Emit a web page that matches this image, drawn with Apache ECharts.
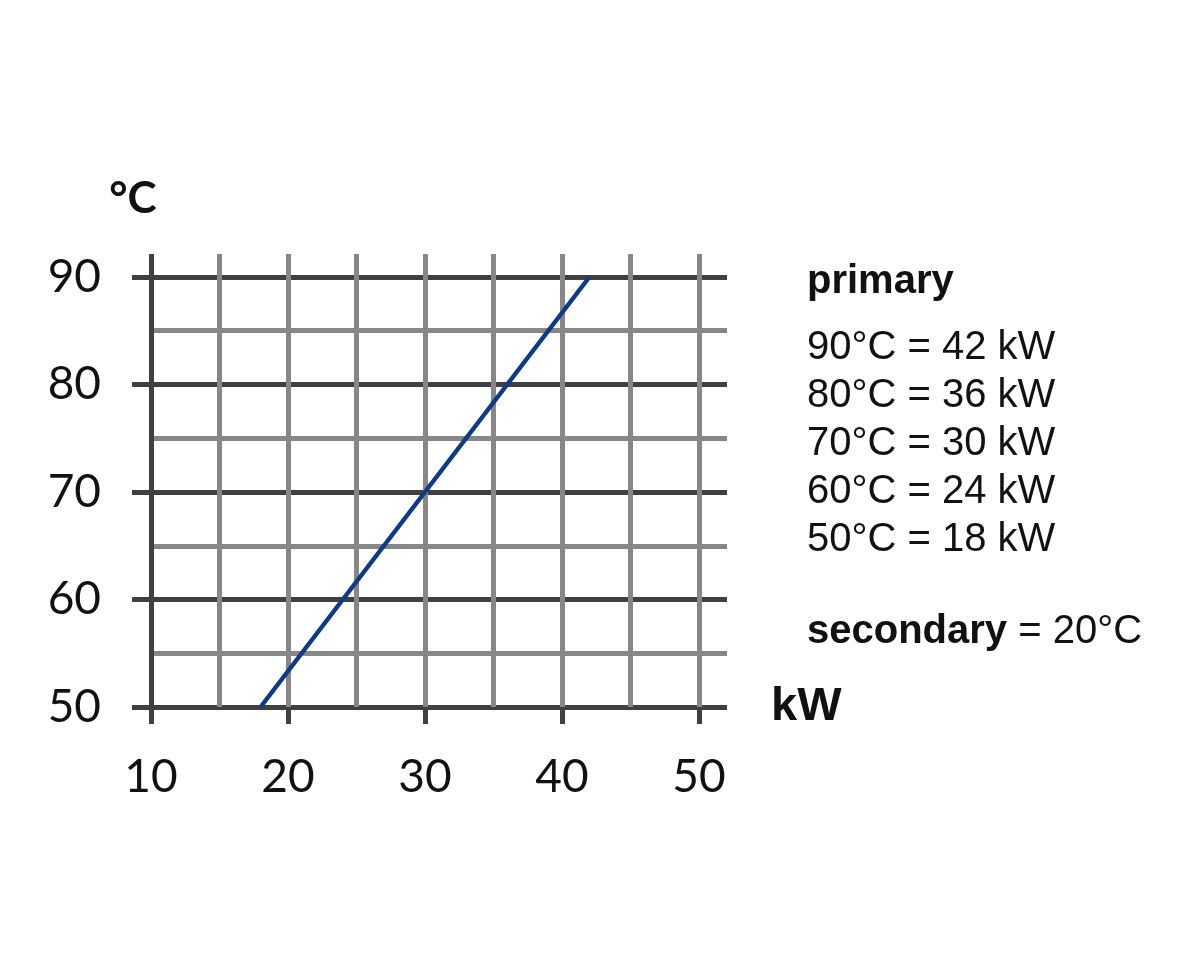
<!DOCTYPE html>
<html>
<head>
<meta charset="utf-8">
<script src="https://cdn.jsdelivr.net/npm/echarts@6/dist/echarts.min.js"></script>
<style>html,body{margin:0;padding:0;background:#fff;}#c{width:1200px;height:960px;}</style>
</head>
<body>
<div id="c"></div>
<script>
// ---- data ----
var powerKW = [18, 24, 30, 36, 42];
var primaryTempC = [50, 60, 70, 80, 90];
var xTicks = [10, 20, 30, 40, 50];
var yTicks = [50, 60, 70, 80, 90];
var secondaryTempC = 20;
var legendTemps = [90, 80, 70, 60, 50];
var legendKW = [42, 36, 30, 24, 18];

// ---- layout ----
var G = { left: 151, top: 277, width: 548, height: 430 };
var xMin = 10, xMax = 50, yMin = 50, yMax = 90;
var pxPerX = G.width / (xMax - xMin);
var pxPerY = G.height / (yMax - yMin);
var extRight = 727, extTop = 254;
var xMaxExt = xMin + (extRight - G.left) / pxPerX;
var yMaxExt = yMin + (G.top + G.height - extTop) / pxPerY;

var DARK = '#404040', GRAY = '#878787';
var vColors = [DARK, GRAY, GRAY, GRAY, GRAY, GRAY, GRAY, GRAY, GRAY];
var hColors = [DARK, GRAY];

var seriesData = powerKW.map(function (v, i) { return [v, primaryTempC[i]]; });

var textFont = 'Liberation Sans';
var legendX = 807;
var graphics = [];
graphics.push({ type: 'text', left: legendX, top: 285 - 23, style: { text: 'primary', font: 'bold 40px "' + textFont + '"', fill: '#111' } });
legendTemps.forEach(function (t, i) {
  graphics.push({ type: 'text', left: legendX, top: 351 + i * 48 - 23,
    style: { text: t + '°C = ' + legendKW[i] + ' kW', font: '40px "' + textFont + '"', fill: '#111' } });
});
graphics.push({ type: 'text', left: legendX, top: 635 - 23,
  style: { text: '{b|secondary} = ' + secondaryTempC + '°C', font: '40px "' + textFont + '"', fill: '#111',
    rich: { b: { fontWeight: 'bold', fontSize: 40, fontFamily: textFont, fill: '#111' } } } });

var chart = echarts.init(document.getElementById('c'), null, { renderer: 'canvas' });
chart.setOption({
  backgroundColor: '#fff',
  animation: false,
  grid: [
    { left: G.left, top: G.top, width: G.width, height: G.height, containLabel: false },
    { left: G.left, top: extTop, width: extRight - G.left, height: G.top + G.height - extTop, containLabel: false }
  ],
  xAxis: [
    { type: 'value', gridIndex: 0, min: xMin, max: xMax, interval: 10,
      axisLine: { show: false },
      axisTick: { show: true, length: 17, lineStyle: { color: DARK, width: 5 } },
      axisLabel: { margin: 47, fontFamily: 'Lato', fontSize: 46, color: '#111', customValues: xTicks },
      splitLine: { show: false },
      name: 'kW', nameLocation: 'end', nameGap: 72,
      nameTextStyle: { fontFamily: textFont, fontWeight: 'bold', fontSize: 47, color: '#111', verticalAlign: 'middle', padding: [0, 0, 4, 0] }
    },
    { type: 'value', gridIndex: 1, min: xMin, max: xMaxExt, interval: 5,
      axisLine: { show: false }, axisTick: { show: false }, axisLabel: { show: false },
      splitLine: { show: true, showMaxLine: false, lineStyle: { color: vColors, width: 5 } }
    }
  ],
  yAxis: [
    { type: 'value', gridIndex: 0, min: yMin, max: yMax, interval: 10,
      axisLine: { show: false },
      axisTick: { show: true, length: 19, lineStyle: { color: DARK, width: 5 } },
      axisLabel: { margin: 50, fontFamily: 'Lato', fontSize: 46, color: '#111', customValues: yTicks },
      splitLine: { show: false },
      name: '°C', nameLocation: 'end', nameGap: 56,
      nameTextStyle: { fontFamily: 'Lato', fontWeight: 'bold', fontSize: 44, color: '#111', padding: [0, 36, 0, 0] }
    },
    { type: 'value', gridIndex: 1, min: yMin, max: yMaxExt, interval: 5,
      axisLine: { show: false }, axisTick: { show: false }, axisLabel: { show: false },
      splitLine: { show: true, showMaxLine: false, lineStyle: { color: hColors, width: 5 } }
    }
  ],
  series: [
    { type: 'line', xAxisIndex: 0, yAxisIndex: 0, data: seriesData, showSymbol: false, symbol: 'none',
      lineStyle: { color: '#0f3b85', width: 4.5 }, z: 10, clip: false }
  ],
  graphic: graphics
});
</script>
</body>
</html>
